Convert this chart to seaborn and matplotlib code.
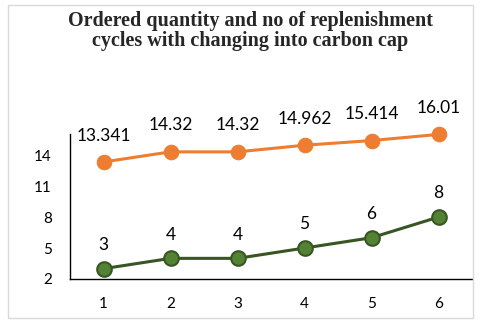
"""Ordered quantity vs replenishment cycles under a changing carbon cap."""

import matplotlib

matplotlib.use("Agg")

import pandas as pd
import seaborn as sns
from matplotlib import pyplot as plt
from matplotlib.patches import Rectangle

# chart data
cases = [1, 2, 3, 4, 5, 6]
ordered_quantity = [13.341, 14.32, 14.32, 14.962, 15.414, 16.01]
replenishment_cycles = [3, 4, 4, 5, 6, 8]
quantity_labels = ["13.341", "14.32", "14.32", "14.962", "15.414", "16.01"]
cycle_labels = ["3", "4", "4", "5", "6", "8"]
y_ticks = [2, 5, 8, 11, 14]

ORANGE = "#ED7D31"
GREEN = "#548235"
GREEN_DARK = "#375623"

sns.set_style("white")
plt.rcParams["font.family"] = ["Lato", "DejaVu Sans"]

df = pd.DataFrame({"case": cases, "quantity": ordered_quantity, "cycles": replenishment_cycles})

fig = plt.figure(figsize=(4.8, 3.22), dpi=100)
fig.patches.append(
    Rectangle((8 / 480, 4 / 322), 465 / 480, 313 / 322, transform=fig.transFigure,
              fill=False, edgecolor="#d9d9d9", linewidth=1.0)
)
ax = fig.add_axes([70 / 480, 1 - 279 / 322, 402 / 480, 145 / 322])

sns.lineplot(data=df, x="case", y="quantity", ax=ax, color=ORANGE, linewidth=2.2,
             marker="o", markersize=10.5, markeredgecolor=ORANGE, clip_on=False)
sns.lineplot(data=df, x="case", y="cycles", ax=ax, color=GREEN_DARK, linewidth=2.2,
             marker="o", markersize=10.5, markerfacecolor=GREEN,
             markeredgecolor=GREEN_DARK, markeredgewidth=1.5, clip_on=False)

for x, y, txt in zip(cases, ordered_quantity, quantity_labels):
    ax.annotate(txt, (x, y), xytext=(0, 19), textcoords="offset points",
                ha="center", va="center", fontsize=12.5, color="#000000")
for x, y, txt in zip(cases, replenishment_cycles, cycle_labels):
    ax.annotate(txt, (x, y), xytext=(0, 17), textcoords="offset points",
                ha="center", va="center", fontsize=12.5, color="#000000")

ax.set_xlim(0.5, 6.5)
ax.set_ylim(2, 16.05)
ax.set_xticks(cases)
ax.set_yticks(y_ticks)
ax.tick_params(axis="both", length=0, labelsize=11, colors="#000000")
ax.tick_params(axis="x", pad=13)
ax.tick_params(axis="y", pad=13)
ax.set_xlabel("")
ax.set_ylabel("")

for side in ("top", "right"):
    ax.spines[side].set_visible(False)
for side in ("left", "bottom"):
    ax.spines[side].set_color("#000000")
    ax.spines[side].set_linewidth(1.0)

fig.text(250 / 480, 1 - 31 / 322,
         "Ordered quantity and no of replenishment\ncycles with changing into carbon cap",
         ha="center", va="center", fontsize=14.5, fontweight="bold",
         family="Liberation Serif", linespacing=1.05)

fig.savefig("out.png", dpi=100)
